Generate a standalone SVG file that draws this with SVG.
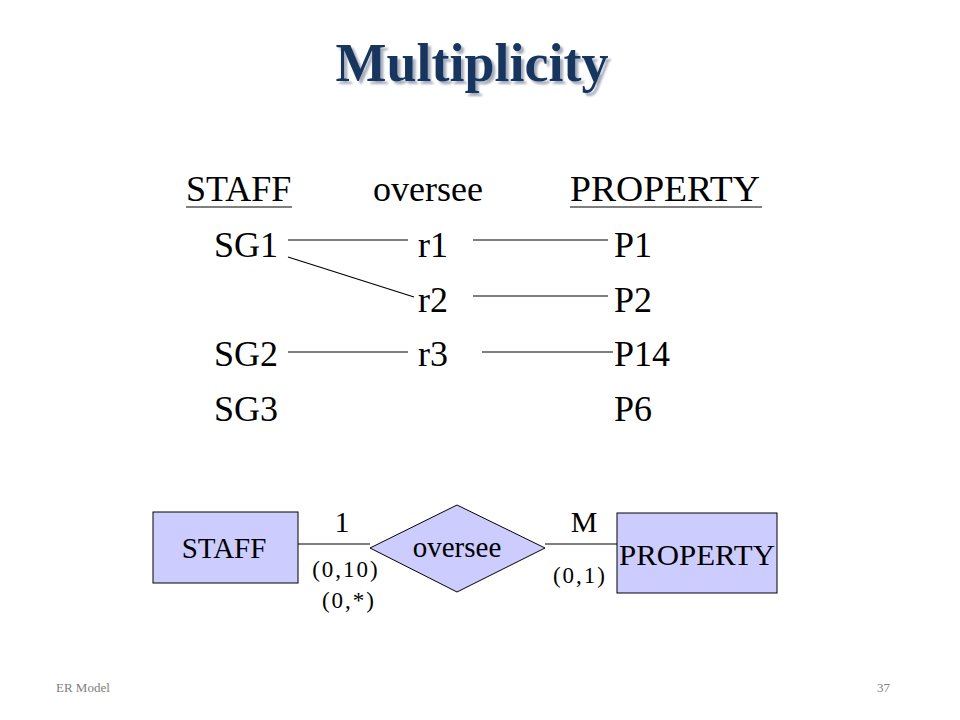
<svg xmlns="http://www.w3.org/2000/svg" width="960" height="720" viewBox="0 0 960 720">
<defs>
<filter id="shadow" x="-5%" y="-20%" width="115%" height="150%">
<feDropShadow dx="3" dy="3" stdDeviation="1" flood-color="#9aa3b5" flood-opacity="0.9"/>
</filter>
</defs>
<style>
text{font-family:"Liberation Serif","Times New Roman",serif;fill:#000}
.big{font-size:36px}
.mid{font-size:29px}
.sm{font-size:23px;letter-spacing:2px}
.ln{stroke:#000;stroke-width:1.2;fill:none}
.ent{fill:#ccccff;stroke:#000;stroke-width:1}
.foot{font-size:13px;fill:#808080}
</style>
<rect width="960" height="720" fill="#fff"/>
<g id="title">
<text x="472" y="81" text-anchor="middle" filter="url(#shadow)" style="font-size:54px;font-weight:bold;fill:#16365f">Multiplicity</text>
</g>
<g id="table">
<text class="big" x="186" y="201">STAFF</text>
<line class="ln" x1="186" y1="207" x2="292" y2="207"/>
<text class="big" x="373" y="201">oversee</text>
<text class="big" x="570" y="201" textLength="190" lengthAdjust="spacingAndGlyphs">PROPERTY</text>
<line class="ln" x1="570" y1="207" x2="762" y2="207"/>
<text class="big" x="214" y="257">SG1</text>
<text class="big" x="418" y="257">r1</text>
<text class="big" x="614" y="257">P1</text>
<text class="big" x="418" y="312">r2</text>
<text class="big" x="614" y="312">P2</text>
<text class="big" x="214" y="366">SG2</text>
<text class="big" x="418" y="366">r3</text>
<text class="big" x="614" y="366">P14</text>
<text class="big" x="214" y="421">SG3</text>
<text class="big" x="614" y="421">P6</text>
</g>
<g id="table-lines">
<line class="ln" x1="288" y1="240" x2="408" y2="240"/>
<line class="ln" x1="473" y1="240" x2="608" y2="240"/>
<line class="ln" x1="288" y1="257" x2="414" y2="297"/>
<line class="ln" x1="473" y1="296" x2="608" y2="296"/>
<line class="ln" x1="288" y1="352" x2="408" y2="352"/>
<line class="ln" x1="482" y1="352" x2="613" y2="352"/>
</g>
<g id="connectors">
<line class="ln" x1="298" y1="544" x2="370" y2="544"/>
<line class="ln" x1="545" y1="544" x2="618" y2="544"/>
</g>
<g id="staff">
<rect class="ent" x="153" y="512" width="145" height="71"/>
<text class="mid" x="224" y="558" text-anchor="middle">STAFF</text>
</g>
<g id="oversee">
<polygon class="ent" points="370,548 457,505 545,548 457,592"/>
<text class="mid" x="457" y="557" text-anchor="middle">oversee</text>
</g>
<g id="property">
<rect class="ent" x="617" y="513" width="160" height="80"/>
<text class="mid" x="619" y="565" textLength="156" lengthAdjust="spacingAndGlyphs">PROPERTY</text>
</g>
<g id="labels">
<text class="mid" x="342" y="532" text-anchor="middle" style="font-size:30px">1</text>
<text class="mid" x="584" y="532" text-anchor="middle" style="font-size:30px">M</text>
<text class="sm" x="346" y="577" text-anchor="middle">(0,10)</text>
<text class="sm" x="349" y="608" text-anchor="middle">(0,*)</text>
<text class="sm" x="580" y="583" text-anchor="middle">(0,1)</text>
</g>
<g id="footer">
<text class="foot" x="56" y="692">ER Model</text>
<text class="foot" x="890" y="692" text-anchor="end">37</text>
</g>
</svg>
